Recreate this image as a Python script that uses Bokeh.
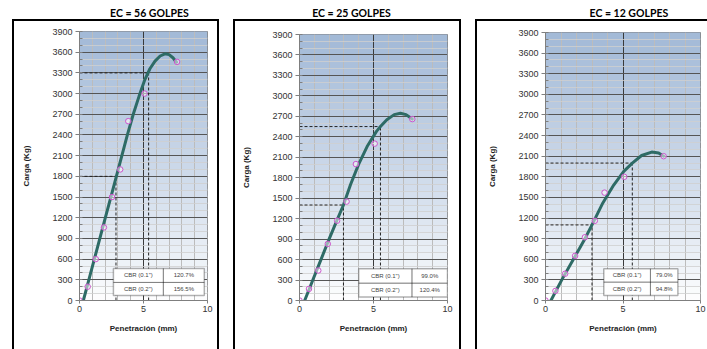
from bokeh.plotting import figure
from bokeh.layouts import row, column
from bokeh.models import BoxAnnotation, FixedTicker, Label, Range1d, InlineStyleSheet
from bokeh.core.properties import value
from bokeh.embed import file_html
from bokeh.resources import INLINE

# ---------------- data ----------------
titles = ["EC = 56 GOLPES", "EC = 25 GOLPES", "EC = 12 GOLPES"]
penetration = [0, 0.64, 1.27, 1.91, 2.54, 3.18, 3.81, 5.08, 7.62]
load_56 = [0, 200, 600, 1060, 1500, 1900, 2600, 3000, 3460]
load_25 = [0, 170, 440, 830, 1170, 1450, 2000, 2300, 2660]
load_12 = [0, 140, 390, 650, 920, 1160, 1570, 1800, 2100]

curve_x_56 = [0.3, 0.73, 1.16, 1.59, 2.02, 2.45, 2.88, 3.31, 3.74, 4.2, 4.65, 5.1, 5.5, 5.9, 6.3, 6.67, 7.0, 7.3, 7.58]
curve_y_56 = [0, 300, 600, 900, 1200, 1500, 1800, 2100, 2400, 2700, 2960, 3200, 3360, 3470, 3545, 3577, 3565, 3520, 3455]
curve_x_25 = [0.35, 0.9, 1.45, 2.0, 2.5, 2.97, 3.45, 4.0, 4.6, 5.2, 5.47, 5.9, 6.4, 6.82, 7.2, 7.62]
curve_y_25 = [0, 300, 600, 900, 1160, 1400, 1700, 2000, 2270, 2480, 2550, 2650, 2725, 2746, 2725, 2660]
curve_x_12 = [0.35, 1.05, 1.8, 2.5, 3.0, 3.7, 4.4, 5.05, 5.6, 6.2, 6.85, 7.3, 7.62]
curve_y_12 = [0, 300, 600, 880, 1100, 1420, 1680, 1880, 2000, 2110, 2160, 2145, 2100]

cbr_pen_56 = [2.85, 5.4]
cbr_load_56 = [1800, 3300]
cbr_pen_25 = [2.97, 5.47]
cbr_load_25 = [1400, 2550]
cbr_pen_12 = [3.0, 5.6]
cbr_load_12 = [1100, 2000]

cbr_labels = ['CBR (0.1")', 'CBR (0.2")']
cbr_val_56 = ["120.7%", "156.5%"]
cbr_val_25 = ["99.0%", "120.4%"]
cbr_val_12 = ["79.0%", "94.8%"]

y_ticks = list(range(0, 4200, 300))
y_minor = list(range(0, 4000, 100))
x_ticks = [0, 5, 10]
x_minor = list(range(0, 11))

loads = [load_56, load_25, load_12]
curves = [(curve_x_56, curve_y_56), (curve_x_25, curve_y_25), (curve_x_12, curve_y_12)]
cbr_pens = [cbr_pen_56, cbr_pen_25, cbr_pen_12]
cbr_loads = [cbr_load_56, cbr_load_25, cbr_load_12]
cbr_vals = [cbr_val_56, cbr_val_25, cbr_val_12]

# ---------------- layout constants ----------------
fig_w = [228, 242, 237]
title_h = 19
plot_h = 330
borders = [(79, 21, 12, 49), (71, 23, 15, 49), (75, 7, 13, 49)]  # left, right, top, bottom
title_cx = [124.5, 85, 127.5]   # title centre (px inside each title strip)
title_cy = 6.5                  # px above the strip bottom
box_css = [
    "left:12px;top:0px;width:207px;height:330px;",
    "left:5px;top:0px;width:228px;height:330px;",
    "left:5px;top:0px;width:240px;height:330px;border-right:none;",
]
tables = [  # x0, xm, x1, y_bottom, y_mid, y_top (data coords)
    (2.65, 6.55, 9.75, 72, 262, 464),
    (4.0, 7.6, 10.0, 50, 254, 465),
    (3.76, 6.77, 8.54, 73, 267, 461),
]

top_col = (162, 185, 215)
bot_col = (255, 255, 255)


def blend(t):
    f = t ** 0.85
    return "#%02x%02x%02x" % tuple(int(round(b + (a - b) * f)) for a, b in zip(top_col, bot_col))


cols = []
for i in range(3):
    # ---- title strip ----
    tf = figure(width=fig_w[i], height=title_h, output_backend="svg", toolbar_location=None,
                x_range=Range1d(0, fig_w[i]), y_range=Range1d(0, title_h),
                x_axis_type=None, y_axis_type=None, min_border=0)
    tf.outline_line_color = None
    tf.background_fill_color = "white"
    tf.border_fill_color = "white"
    tf.text(x=[title_cx[i]], y=[title_cy], text=[titles[i]], text_font=value("Lato"),
            text_font_style="bold", text_font_size="10.5px", text_color="#000000",
            text_align="center", text_baseline="middle")

    # ---- chart ----
    L, R, T, B = borders[i]
    css = (":host::after{content:'';position:absolute;" + box_css[i] +
           "border:2px solid #000;border-bottom:none;box-sizing:border-box;pointer-events:none;z-index:5;}")
    p = figure(width=fig_w[i], height=plot_h, output_backend="svg", toolbar_location=None,
               x_range=Range1d(0, 10), y_range=Range1d(0, 3900),
               min_border_left=L, min_border_right=R, min_border_top=T, min_border_bottom=B,
               stylesheets=[InlineStyleSheet(css=css)])
    p.background_fill_color = "white"
    p.border_fill_color = "white"
    p.outline_line_color = "#7f7f7f"

    # gradient background bands
    nb = 39
    for k in range(nb):
        b = 3900 * k / nb
        t = 3900 * (k + 1) / nb
        p.add_layout(BoxAnnotation(bottom=b, top=t + 20, fill_color=blend((k + 0.5) / nb),
                                   fill_alpha=1, line_alpha=0, level="image"))

    # axes
    p.xaxis.ticker = FixedTicker(ticks=x_ticks, minor_ticks=x_minor)
    p.yaxis.ticker = FixedTicker(ticks=y_ticks, minor_ticks=y_minor)
    p.xaxis.axis_label = "Penetración (mm)"
    p.yaxis.axis_label = "Carga (Kg)"
    for ax in (p.xaxis[0], p.yaxis[0]):
        ax.axis_label_text_font = "Liberation Sans"
        ax.axis_label_text_font_style = "bold"
        ax.axis_label_text_font_size = "8px"
        ax.axis_label_text_color = "#222222"
        ax.major_label_text_font = "Liberation Sans"
        ax.major_label_text_font_size = "9px"
        ax.major_label_text_color = "#333333"
        ax.axis_line_color = "#7f7f7f"
        ax.major_tick_line_color = "#7f7f7f"
        ax.minor_tick_line_color = "#7f7f7f"
        ax.major_tick_in = 0
        ax.minor_tick_out = 0
    p.yaxis.major_tick_out = 4
    p.yaxis.minor_tick_in = 3
    p.yaxis.major_label_standoff = 3
    p.yaxis.axis_label_standoff = 18
    p.xaxis.major_tick_out = 3
    p.xaxis.minor_tick_in = 0
    p.xaxis.major_label_standoff = 2
    p.xaxis.axis_label_standoff = 9

    # grid
    p.xgrid.grid_line_color = "#3a3a3a"
    p.xgrid.grid_line_width = 1
    p.xgrid.minor_grid_line_color = "#bcbcbc"
    p.ygrid.grid_line_color = "#555555"
    p.ygrid.grid_line_width = 1
    p.ygrid.minor_grid_line_color = "#d0d0d0"
    p.ygrid.minor_grid_line_alpha = 0.8

    # CBR reading lines
    pens, lds = cbr_pens[i], cbr_loads[i]
    p.segment(x0=[0] * len(pens), y0=lds, x1=pens, y1=lds, line_color="#222222",
              line_width=1, line_dash="3 2")
    p.segment(x0=pens, y0=[0] * len(pens), x1=pens, y1=lds, line_color="#222222",
              line_width=1, line_dash="3 2")

    # trend curve and data points
    cx, cy = curves[i]
    p.line(cx, cy, line_color="#2e6b66", line_width=3, line_cap="round")
    p.scatter(penetration, loads[i], marker="circle", size=5.5, line_color="#cc55cc",
              fill_color="white", fill_alpha=0.5, line_width=1)

    # CBR table
    x0, xm, x1, yb, ym, yt = tables[i]
    p.add_layout(BoxAnnotation(left=x0, right=x1, bottom=yb, top=yt, fill_color="white",
                               fill_alpha=1, line_color="#000000", line_width=1.5))
    p.add_layout(BoxAnnotation(left=xm, right=xm, bottom=yb, top=yt, fill_alpha=0,
                               line_color="#000000", line_width=1))
    p.add_layout(BoxAnnotation(left=x0, right=x1, bottom=ym, top=ym, fill_alpha=0,
                               line_color="#000000", line_width=1))
    rows_y = [(ym + yt) / 2, (yb + ym) / 2]
    for r in range(2):
        p.add_layout(Label(x=(x0 + xm) / 2, y=rows_y[r], text=cbr_labels[r], text_font_size="6px",
                           text_font="Liberation Sans", text_color="#444444",
                           text_align="center", text_baseline="middle"))
        p.add_layout(Label(x=(xm + x1) / 2, y=rows_y[r], text=cbr_vals[i][r], text_font_size="6px",
                           text_font="Liberation Sans", text_color="#444444",
                           text_align="center", text_baseline="middle"))
    cols.append(column(tf, p, spacing=0))

layout = row(*cols, spacing=0)
open("out.html", "w").write(file_html(layout, INLINE))
